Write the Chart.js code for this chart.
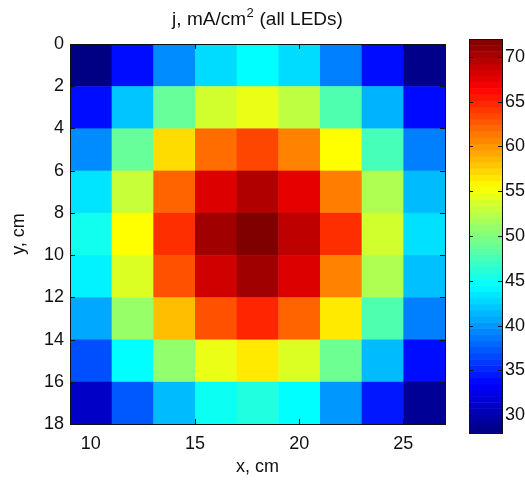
<!DOCTYPE html>
<html>
<head>
<meta charset="utf-8">
<script src="https://cdn.jsdelivr.net/npm/chart.js@4.4.1/dist/chart.umd.min.js"></script>
<style>
  html, body { margin: 0; padding: 0; background: #fff; }
  #wrap { position: relative; width: 525px; height: 483px; }
  canvas { position: absolute; left: 0; top: 0; }
</style>
</head>
<body>
<div id="wrap">
  <canvas id="heatmap" width="525" height="483"></canvas>
  <canvas id="colorbar" width="525" height="483"></canvas>
</div>
<script>
// cell centres, cm
const xCenters = [10, 12, 14, 16, 18, 20, 22, 24, 26];
const yCenters = [1, 3, 5, 7, 9, 11, 13, 15, 17];

// current density j, mA/cm^2 (rows follow yCenters, columns follow xCenters)
const row1 = [28.2, 34.0, 39.5, 43.0, 44.5, 43.0, 39.0, 34.0, 28.5];
const row3 = [34.0, 42.0, 48.9, 53.5, 54.6, 52.7, 47.9, 41.2, 33.9];
const row5 = [39.5, 48.9, 57.0, 61.8, 63.5, 60.9, 55.5, 47.5, 39.0];
const row7 = [43.4, 53.1, 62.2, 68.0, 69.9, 67.6, 61.1, 52.0, 41.6];
const row9 = [45.2, 55.5, 64.5, 70.6, 72.0, 69.3, 64.5, 53.5, 43.2];
const row11 = [44.0, 54.0, 63.0, 68.5, 70.6, 68.0, 60.9, 52.0, 41.8];
const row13 = [40.8, 51.0, 58.3, 63.0, 64.9, 62.2, 56.4, 47.9, 39.0];
const row15 = [36.9, 44.5, 50.8, 54.6, 56.4, 54.0, 49.2, 41.6, 34.0];
const row17 = [31.1, 37.3, 41.6, 45.0, 45.9, 44.5, 40.0, 34.5, 29.0];
const jRows = [row1, row3, row5, row7, row9, row11, row13, row15, row17];

const xTicks = [10, 15, 20, 25];
const yTicks = [0, 2, 4, 6, 8, 10, 12, 14, 16, 18];
const cbTicks = [30, 35, 40, 45, 50, 55, 60, 65, 70];
const cRange = [28, 72];

// title pieces: base, superscript, rest
const titleParts = ["j, mA/cm", "2", " (all LEDs)"];

const FAMILY = "'Liberation Sans', Arial, sans-serif";
const FONT = { family: FAMILY, size: 18 };
const INK = "#111";

function clamp01(v) {
  return Math.min(1, Math.max(0, v));
}

function jet(value) {
  const t = clamp01((value - cRange[0]) / (cRange[1] - cRange[0]));
  const r = clamp01(Math.min(4 * t - 1.5, -4 * t + 4.5));
  const g = clamp01(Math.min(4 * t - 0.5, -4 * t + 3.5));
  const b = clamp01(Math.min(4 * t + 0.5, -4 * t + 2.5));
  return `rgb(${Math.round(r * 255)}, ${Math.round(g * 255)}, ${Math.round(b * 255)})`;
}

function setTicks(values) {
  return (scale) => {
    scale.ticks = values.map((v) => ({ value: v }));
  };
}

// frame plus inward ticks on all four sides, matlab style
function drawFrame(chart, xScale, yScale, tickLen) {
  const ctx = chart.ctx;
  const a = chart.chartArea;
  ctx.save();
  ctx.strokeStyle = INK;
  ctx.lineWidth = 1;
  ctx.beginPath();
  if (xScale) {
    xScale.ticks.forEach((t) => {
      const px = Math.round(xScale.getPixelForValue(t.value)) + 0.5;
      ctx.moveTo(px, a.bottom);
      ctx.lineTo(px, a.bottom - tickLen);
      ctx.moveTo(px, a.top);
      ctx.lineTo(px, a.top + tickLen);
    });
  }
  yScale.ticks.forEach((t) => {
    const py = Math.round(yScale.getPixelForValue(t.value)) + 0.5;
    ctx.moveTo(a.left, py);
    ctx.lineTo(a.left + tickLen, py);
    ctx.moveTo(a.right, py);
    ctx.lineTo(a.right - tickLen, py);
  });
  ctx.stroke();
  ctx.strokeRect(Math.round(a.left) + 0.5, Math.round(a.top) + 0.5,
    Math.round(a.right - a.left), Math.round(a.bottom - a.top));
  ctx.restore();
}

function drawTitle(chart) {
  const ctx = chart.ctx;
  const a = chart.chartArea;
  const big = `19px ${FAMILY}`;
  const small = `13px ${FAMILY}`;
  ctx.save();
  ctx.fillStyle = INK;
  ctx.textBaseline = "alphabetic";
  ctx.font = big;
  const w0 = ctx.measureText(titleParts[0]).width;
  const w2 = ctx.measureText(titleParts[2]).width;
  ctx.font = small;
  const w1 = ctx.measureText(titleParts[1]).width + 1;
  let x = (a.left + a.right) / 2 - (w0 + w1 + w2) / 2;
  const base = 25;
  ctx.font = big;
  ctx.fillText(titleParts[0], x, base);
  x += w0;
  ctx.font = small;
  ctx.fillText(titleParts[1], x + 0.5, base - 8);
  x += w1;
  ctx.font = big;
  ctx.fillText(titleParts[2], x, base);
  ctx.restore();
}

const heatmapPlugin = {
  id: "heatmapCells",
  beforeDatasetsDraw(chart) {
    const ctx = chart.ctx;
    const xs = chart.scales.x;
    const ys = chart.scales.y;
    jRows.forEach((row, i) => {
      const yc = yCenters[i];
      const y0 = ys.getPixelForValue(yc - 1);
      const y1 = ys.getPixelForValue(yc + 1);
      row.forEach((v, k) => {
        const xc = xCenters[k];
        const x0 = xs.getPixelForValue(xc - 1);
        const x1 = xs.getPixelForValue(xc + 1);
        ctx.fillStyle = jet(v);
        ctx.fillRect(x0, Math.min(y0, y1), x1 - x0 + 0.5, Math.abs(y1 - y0) + 0.5);
      });
    });
  },
  afterDraw(chart) {
    drawFrame(chart, chart.scales.x, chart.scales.y, 5);
    drawTitle(chart);
  },
};

const colorbarPlugin = {
  id: "colorbarFill",
  beforeDatasetsDraw(chart) {
    const ctx = chart.ctx;
    const a = chart.chartArea;
    const ys = chart.scales.y;
    const steps = 64;
    const span = cRange[1] - cRange[0];
    for (let s = 0; s < steps; s++) {
      const v0 = cRange[0] + (span * s) / steps;
      const v1 = cRange[0] + (span * (s + 1)) / steps;
      const p0 = ys.getPixelForValue(v0);
      const p1 = ys.getPixelForValue(v1);
      ctx.fillStyle = jet((v0 + v1) / 2);
      ctx.fillRect(a.left, p1, a.right - a.left, p0 - p1 + 0.5);
    }
  },
  afterDraw(chart) {
    drawFrame(chart, null, chart.scales.y, 4);
  },
};

const points = [];
yCenters.forEach((y) => xCenters.forEach((x) => points.push({ x: x, y: y })));

new Chart(document.getElementById("heatmap"), {
  type: "scatter",
  data: {
    datasets: [{ data: points, pointRadius: 0, pointHoverRadius: 0 }],
  },
  options: {
    responsive: false,
    animation: false,
    layout: { padding: { left: 0, right: 80, top: 44, bottom: 0 } },
    plugins: {
      legend: { display: false },
      tooltip: { enabled: false },
      title: { display: false },
    },
    scales: {
      x: {
        type: "linear",
        min: 9,
        max: 27,
        afterBuildTicks: setTicks(xTicks),
        afterFit: (scale) => { scale.height = 59; },
        grid: { display: false, drawTicks: false },
        border: { display: false },
        ticks: { color: INK, font: FONT, padding: 9, maxRotation: 0 },
        title: {
          display: true,
          text: "x, cm",
          color: INK,
          font: FONT,
          padding: { top: 0, bottom: 5 },
        },
      },
      y: {
        type: "linear",
        reverse: true,
        min: 0,
        max: 18,
        afterBuildTicks: setTicks(yTicks),
        afterFit: (scale) => { scale.width = 70; },
        grid: { display: false, drawTicks: false },
        border: { display: false },
        ticks: { color: INK, font: FONT, padding: 6 },
        title: {
          display: true,
          text: "y, cm",
          color: INK,
          font: FONT,
          padding: { top: 8, bottom: 0 },
        },
      },
    },
  },
  plugins: [heatmapPlugin],
});

new Chart(document.getElementById("colorbar"), {
  type: "scatter",
  data: { datasets: [{ data: [], pointRadius: 0 }] },
  options: {
    responsive: false,
    animation: false,
    layout: { padding: { left: 469, right: 0, top: 39, bottom: 50 } },
    plugins: {
      legend: { display: false },
      tooltip: { enabled: false },
    },
    scales: {
      x: { display: false, min: 0, max: 1 },
      y: {
        position: "right",
        min: cRange[0],
        max: cRange[1],
        afterBuildTicks: setTicks(cbTicks),
        afterFit: (scale) => { scale.width = 23; },
        grid: { display: false, drawTicks: false },
        border: { display: false },
        ticks: { color: INK, font: FONT, padding: 3 },
      },
    },
  },
  plugins: [colorbarPlugin],
});
</script>
</body>
</html>
